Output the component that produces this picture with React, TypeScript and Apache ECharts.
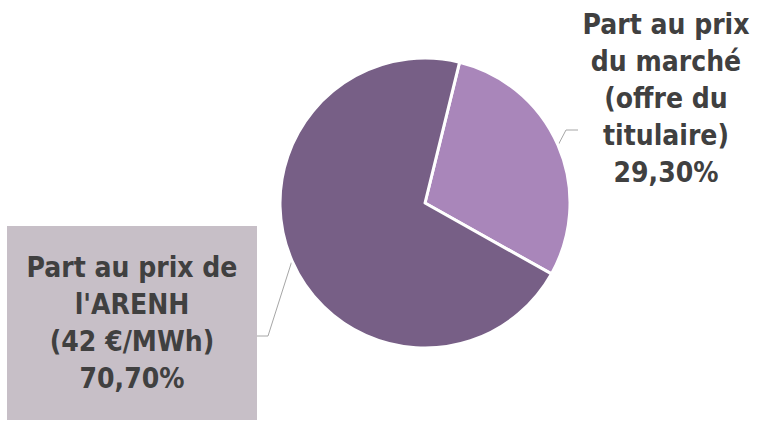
import React, { useEffect, useRef } from "react";
import * as echarts from "echarts";

const categories = [
  "Part au prix\ndu marché\n(offre du\ntitulaire)",
  "Part au prix de\nl'ARENH\n(42 €/MWh)",
];
const values = [29.3, 70.7];
const valueLabels = ["29,30%", "70,70%"];
const colors = ["#A986BA", "#775F86"];

export default function App() {
  const ref = useRef<HTMLDivElement>(null);
  useEffect(() => {
    if (!ref.current) return;
    const chart = echarts.init(ref.current, undefined, { renderer: "svg" });
    const baseLabel = {
      show: true,
      position: "outside",
      color: "#404040",
      fontFamily: "'DejaVu Sans Condensed', 'Open Sans', sans-serif",
      fontWeight: "bold",
      fontSize: 28,
      lineHeight: 37,
      align: "center",
      overflow: "none",
    };
    chart.setOption({
      animation: false,
      backgroundColor: "#ffffff",
      series: [
        {
          type: "pie",
          center: [425, 203],
          radius: 145,
          startAngle: 76.2,
          clockwise: true,
          avoidLabelOverlap: false,
          itemStyle: { borderColor: "#ffffff", borderWidth: 3 },
          label: {
            ...baseLabel,
            formatter: (p: any) => `${categories[p.dataIndex]}\n${valueLabels[p.dataIndex]}`,
          },
          labelLine: {
            show: true,
            length: 10,
            length2: 10,
            smooth: false,
            lineStyle: { color: "#A6A6A6", width: 1 },
          },
          labelLayout: (p: any) => {
            const pts = p.labelLinePoints;
            const edge = pts && pts[0] ? pts[0] : [0, 0];
            if (p.dataIndex === 1) {
              const cx = 132;
              const cy = 323;
              const halfW = 125;
              return {
                x: cx,
                y: cy,
                align: "center",
                verticalAlign: "middle",
                labelLinePoints: [edge, [cx + halfW + 11, cy + 13], [cx + halfW, cy + 13]],
              };
            }
            const cx = 666;
            const cy = 98;
            const left = cx - 90;
            return {
              x: cx,
              y: cy,
              align: "center",
              verticalAlign: "middle",
              labelLinePoints: [edge, [left - 10, cy + 32], [left + 2, cy + 32]],
            };
          },
          data: values.map((v, i) => ({
            value: v,
            name: categories[i],
            itemStyle: { color: colors[i] },
            label:
              i === 1
                ? {
                    width: 210,
                    overflow: "none",
                    backgroundColor: "#C7BFC7",
                    padding: [30, 20, 16, 20],
                  }
                : { width: 180, overflow: "none" },
          })),
        },
      ],
    });
    return () => chart.dispose();
  }, []);
  return (
    <div
      ref={ref}
      style={{ position: "fixed", left: 0, top: 0, width: 761, height: 421 }}
    />
  );
}
